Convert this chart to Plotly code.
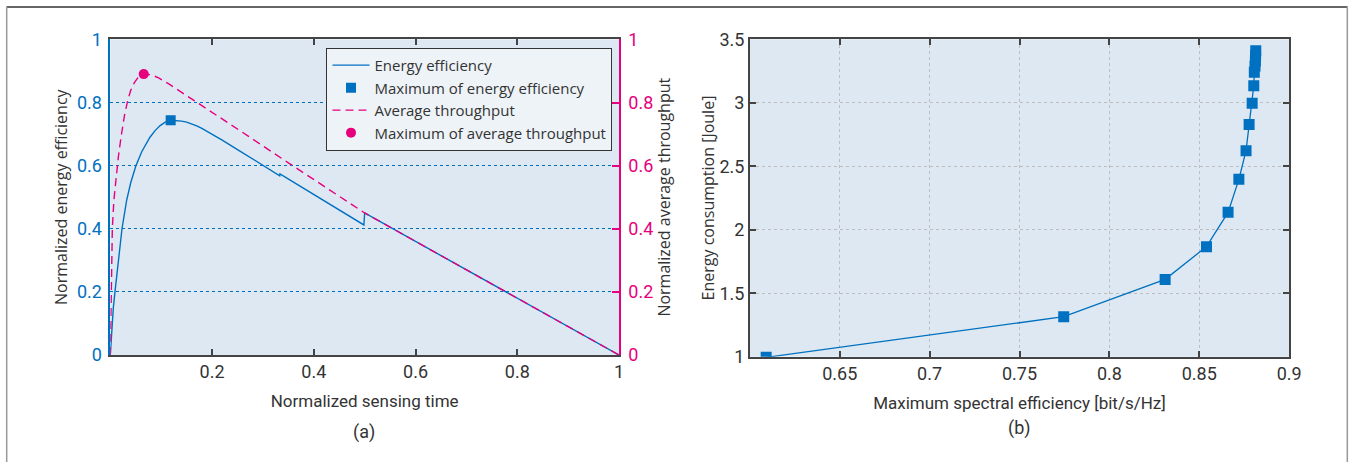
import plotly.graph_objects as go

# ---- panel (a): normalized sensing time trade-off ----
sense_time_ee = [0, 0.003, 0.006, 0.0092, 0.015, 0.023, 0.032, 0.04, 0.05, 0.062,
                 0.078, 0.088, 0.098, 0.108, 0.1187, 0.13, 0.14, 0.15, 0.16, 0.17,
                 0.18, 0.19, 0.2, 0.22, 0.25, 0.3, 0.333, 0.3335,
                 0.37, 0.4, 0.45, 0.4985, 0.5, 1.0]
energy_eff = [0, 0.08, 0.15, 0.2, 0.29, 0.4, 0.489, 0.545, 0.598, 0.645,
              0.69, 0.711, 0.727, 0.738, 0.744, 0.743, 0.741, 0.738, 0.733, 0.726,
              0.718, 0.709, 0.70, 0.681, 0.651, 0.601, 0.568, 0.574,
              0.538, 0.509, 0.461, 0.412, 0.45, 0.0]

sense_time_tp = [0, 0.0014, 0.004, 0.007, 0.011, 0.016, 0.022, 0.028, 0.034, 0.04,
                 0.047, 0.054, 0.06, 0.0657, 0.075, 0.085, 0.095, 0.105, 0.115,
                 0.13, 0.15, 0.176, 0.25, 0.35, 0.45, 0.5, 1.0]
avg_throughput = [0, 0.2, 0.4, 0.49, 0.56, 0.63, 0.70, 0.76, 0.805, 0.838,
                  0.862, 0.878, 0.886, 0.890, 0.889, 0.885, 0.878, 0.869, 0.859,
                  0.843, 0.822, 0.795, 0.716, 0.609, 0.502, 0.45, 0.0]

ee_max_x, ee_max_y = [0.1187], [0.744]
tp_max_x, tp_max_y = [0.0657], [0.890]

norm_ticks = [0, 0.2, 0.4, 0.6, 0.8, 1]
norm_ticktext = ["0", "0.2", "0.4", "0.6", "0.8", "1"]

# ---- panel (b): energy consumption vs. spectral efficiency ----
spectral_eff = [0.6091, 0.7746, 0.831, 0.854, 0.866, 0.872, 0.876, 0.8777,
                0.8794, 0.8803, 0.8806, 0.881, 0.8812, 0.8813, 0.8814]
energy_cons = [0.995, 1.315, 1.609, 1.867, 2.137, 2.397, 2.623, 2.828,
               2.996, 3.135, 3.24, 3.29, 3.33, 3.37, 3.41]
se_ticks = [0.65, 0.7, 0.75, 0.8, 0.85, 0.9]
se_ticktext = ["0.65", "0.7", "0.75", "0.8", "0.85", "0.9"]
ec_ticks = [1, 1.5, 2, 2.5, 3, 3.5]
ec_ticktext = ["1", "1.5", "2", "2.5", "3", "3.5"]

BLUE = "#0070C0"
PINK = "#E6007E"
DARK = "#333333"
AXIS = "#444444"
BG = "#DDE8F3"
NARROW = "Roboto, Liberation Sans, sans-serif"
SANS = "Open Sans, Noto Sans, sans-serif"

W, H = 1356, 462

fig = go.Figure()

fig.add_trace(go.Scatter(x=sense_time_ee, y=energy_eff, mode="lines",
                         line=dict(color=BLUE, width=1.4),
                         name="Energy efficiency", xaxis="x", yaxis="y"))
fig.add_trace(go.Scatter(x=ee_max_x, y=ee_max_y, mode="markers",
                         marker=dict(symbol="square", color=BLUE, size=10),
                         name="Maximum of energy efficiency", xaxis="x", yaxis="y"))
fig.add_trace(go.Scatter(x=sense_time_tp, y=avg_throughput, mode="lines",
                         line=dict(color=PINK, width=1.4, dash="8px,5px"),
                         name="Average throughput", xaxis="x", yaxis="y2"))
fig.add_trace(go.Scatter(x=tp_max_x, y=tp_max_y, mode="markers",
                         marker=dict(symbol="circle", color=PINK, size=10),
                         name="Maximum of average throughput", xaxis="x", yaxis="y2"))

fig.add_trace(go.Scatter(x=spectral_eff, y=energy_cons, mode="lines+markers",
                         line=dict(color=BLUE, width=1.3),
                         marker=dict(symbol="square", color=BLUE, size=11),
                         showlegend=False, xaxis="x2", yaxis="y3"))

def px_x(v):
    return v / W

def px_y(v):
    return (H - v) / H

fig.update_layout(
    width=W, height=H,
    margin=dict(l=0, r=0, t=0, b=0, autoexpand=False),
    paper_bgcolor="white",
    plot_bgcolor=BG,
    font=dict(family=SANS, color=DARK),
    xaxis=dict(
        domain=[px_x(110.3), px_x(619)], range=[0, 1], anchor="y",
        automargin=False,
        tickvals=norm_ticks[1:], ticktext=norm_ticktext[1:],
        ticks="inside", ticklen=6, tickwidth=1.5, tickcolor=AXIS,
        showline=True, linecolor=AXIS, linewidth=1.5, mirror="ticks",
        showgrid=False, zeroline=False,
        tickfont=dict(family=NARROW, size=18, color=DARK),
        title=dict(text="Normalized sensing time",
                   font=dict(family=NARROW, size=17, color=DARK), standoff=14),
    ),
    yaxis=dict(
        domain=[px_y(355), px_y(39.4)], range=[0, 1], anchor="x",
        automargin=False,
        tickvals=norm_ticks, ticktext=norm_ticktext,
        ticks="", showline=True, linecolor=BLUE, linewidth=1.5,
        showgrid=True, gridcolor=BLUE, griddash="dot", gridwidth=1.3,
        zeroline=False, ticklabelstandoff=3,
        tickfont=dict(family=NARROW, size=18, color=BLUE),
        title=dict(text="Normalized energy efficiency",
                   font=dict(family=SANS, size=16, color=DARK), standoff=5),
    ),
    yaxis2=dict(
        overlaying="y", side="right", anchor="x", range=[0, 1],
        automargin=False,
        tickvals=norm_ticks, ticktext=norm_ticktext,
        ticks="inside", ticklen=7, tickwidth=1.5, tickcolor=PINK,
        showline=True, linecolor=PINK, linewidth=1.5,
        showgrid=False, zeroline=False, ticklabelstandoff=4,
        tickfont=dict(family=NARROW, size=18, color=PINK),
        title=dict(text="Normalized average throughput",
                   font=dict(family=SANS, size=16, color=DARK), standoff=5),
    ),
    xaxis2=dict(
        domain=[px_x(749.8), px_x(1289.2)], range=[0.6, 0.9], anchor="y3",
        automargin=False,
        tickvals=se_ticks, ticktext=se_ticktext,
        ticks="inside", ticklen=6, tickwidth=1.5, tickcolor=AXIS,
        showline=True, linecolor=AXIS, linewidth=1.5, mirror="ticks",
        showgrid=True, gridcolor="#BDBDBD", griddash="3px,3px", gridwidth=1,
        zeroline=False,
        tickfont=dict(family=NARROW, size=18, color=DARK),
        title=dict(text="Maximum spectral efficiency [bit/s/Hz]",
                   font=dict(family=NARROW, size=17, color=DARK), standoff=14),
    ),
    yaxis3=dict(
        domain=[px_y(356.7), px_y(39.3)], range=[1, 3.5], anchor="x2",
        automargin=False,
        tickvals=ec_ticks, ticktext=ec_ticktext,
        ticks="inside", ticklen=6, tickwidth=1.5, tickcolor=AXIS,
        showline=True, linecolor=AXIS, linewidth=1.5, mirror="ticks",
        showgrid=True, gridcolor="#BDBDBD", griddash="3px,3px", gridwidth=1,
        zeroline=False,
        tickfont=dict(family=NARROW, size=18, color=DARK),
        title=dict(text="Energy consumption [Joule]",
                   font=dict(family=SANS, size=16, color=DARK), standoff=1),
    ),
    legend=dict(
        x=px_x(612.3), y=px_y(47.7), xanchor="right", yanchor="top",
        bgcolor="#EEF3F8", bordercolor=DARK, borderwidth=1.2,
        font=dict(family=SANS, size=15, color=DARK),
        tracegroupgap=0, itemwidth=37,
    ),
    annotations=[
        dict(text="(a)", x=px_x(364), y=px_y(432), xref="paper", yref="paper",
             xanchor="center", yanchor="middle", showarrow=False,
             font=dict(family=NARROW, size=18, color=DARK)),
        dict(text="(b)", x=px_x(1019), y=px_y(428), xref="paper", yref="paper",
             xanchor="center", yanchor="middle", showarrow=False,
             font=dict(family=NARROW, size=18, color=DARK)),
    ],
    shapes=[
        dict(type="line", xref="paper", yref="paper",
             x0=px_x(6.5), x1=px_x(1347.5), y0=px_y(7), y1=px_y(7),
             line=dict(color="#333333", width=1.5)),
        dict(type="line", xref="paper", yref="paper",
             x0=px_x(6.7), x1=px_x(6.7), y0=px_y(7), y1=0,
             line=dict(color="#999999", width=1.5)),
        dict(type="line", xref="paper", yref="paper",
             x0=px_x(1347.3), x1=px_x(1347.3), y0=px_y(7), y1=0,
             line=dict(color="#999999", width=1.5)),
    ],
)

fig.write_html("out.html")
